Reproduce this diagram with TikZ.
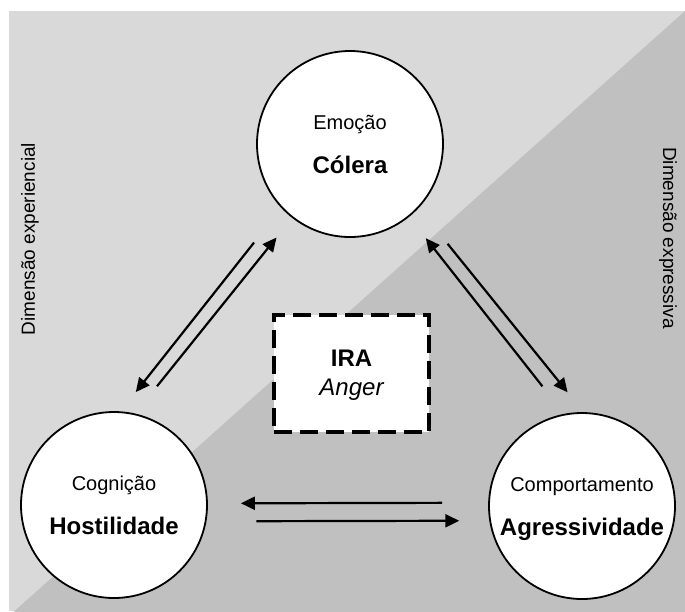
\documentclass[tikz,border=0pt]{standalone}
\usepackage{fontspec}
\setmainfont{Liberation Sans}
\usetikzlibrary{arrows.meta,calc}
\definecolor{IraInk}{HTML}{000000}
\definecolor{IraLight}{HTML}{D9D9D9}
\definecolor{IraDark}{HTML}{C0C0C0}
\tikzset{
  every node/.style={text=IraInk, inner sep=0pt},
  facet/.style={circle, draw=IraInk, line width=1.8pt, fill=white, minimum size=186pt},
  facetsub/.style={font=\fontsize{20}{24}\selectfont, anchor=base},
  facetmain/.style={font=\fontsize{24}{29}\selectfont\bfseries, anchor=base},
  core/.style={draw=IraInk, line width=4pt, dash pattern=on 18pt off 8pt, fill=white, minimum width=155pt, minimum height=117pt},
  link/.style={-{Triangle[length=14pt,width=13pt]}, draw=IraInk, line width=2.2pt},
  axislabel/.style={font=\fontsize{19}{23}\selectfont},
}

\begin{document}
\begin{tikzpicture}[x=1pt,y=-1pt]
  \useasboundingbox (0,0) rectangle (685,611);
  % Two-tone background split along the diagonal
  \fill[IraLight] (9,11) rectangle (685,611);
  \fill[IraDark] (9,616) -- (685,11) -- (685,616) -- cycle;
  % Side dimension labels
  \node[axislabel, rotate=90] (expLabel) at (30,239) {Dimensão experiencial};
  \node[axislabel, rotate=-90] (expressLabel) at (668,238) {Dimensão expressiva};
  % Three facets
  \node[facet] (emo) at (350,144) {};
  \node[facet] (cog) at (114,505) {};
  \node[facet] (beh) at (582,506) {};
  \node[facetsub] (emoSub) at ([yshift=14.5pt]emo.center) {Emoção};
  \node[facetmain] (emoMain) at ([yshift=-29pt]emo.center) {Cólera};
  \node[facetsub] (cogSub) at ([yshift=14.5pt]cog.center) {Cognição};
  \node[facetmain] (cogMain) at ([yshift=-29pt]cog.center) {Hostilidade};
  \node[facetsub] (behSub) at ([yshift=14.5pt]beh.center) {Comportamento};
  \node[facetmain] (behMain) at ([yshift=-29pt]beh.center) {Agressividade};
  % Central construct
  \node[core] (ira) at (351.5,373.5) {};
  \node[facetmain] (iraMain) at ([yshift=7.5pt]ira.center) {IRA};
  \node[facetsub, font=\fontsize{24}{29}\selectfont\itshape] (iraSub) at ([yshift=-21.5pt]ira.center) {Anger};
  % Reciprocal links
  \draw[link, shorten <=44pt, shorten >=24.5pt] (emo.223) -- (cog.86);
  \draw[link, shorten <=35pt, shorten >=25pt] (cog.77) -- (emo.232);
  \draw[link, shorten <=35pt, shorten >=27pt] (beh.101) -- (emo.309);
  \draw[link, shorten <=46pt, shorten >=25.5pt] (emo.317) -- (beh.89);
  \draw[link, shorten <=46pt, shorten >=33pt] (beh.178) -- (cog.1);
  \draw[link, shorten <=50pt, shorten >=30pt] (cog.-10) -- (beh.189);
\end{tikzpicture}
\end{document}
